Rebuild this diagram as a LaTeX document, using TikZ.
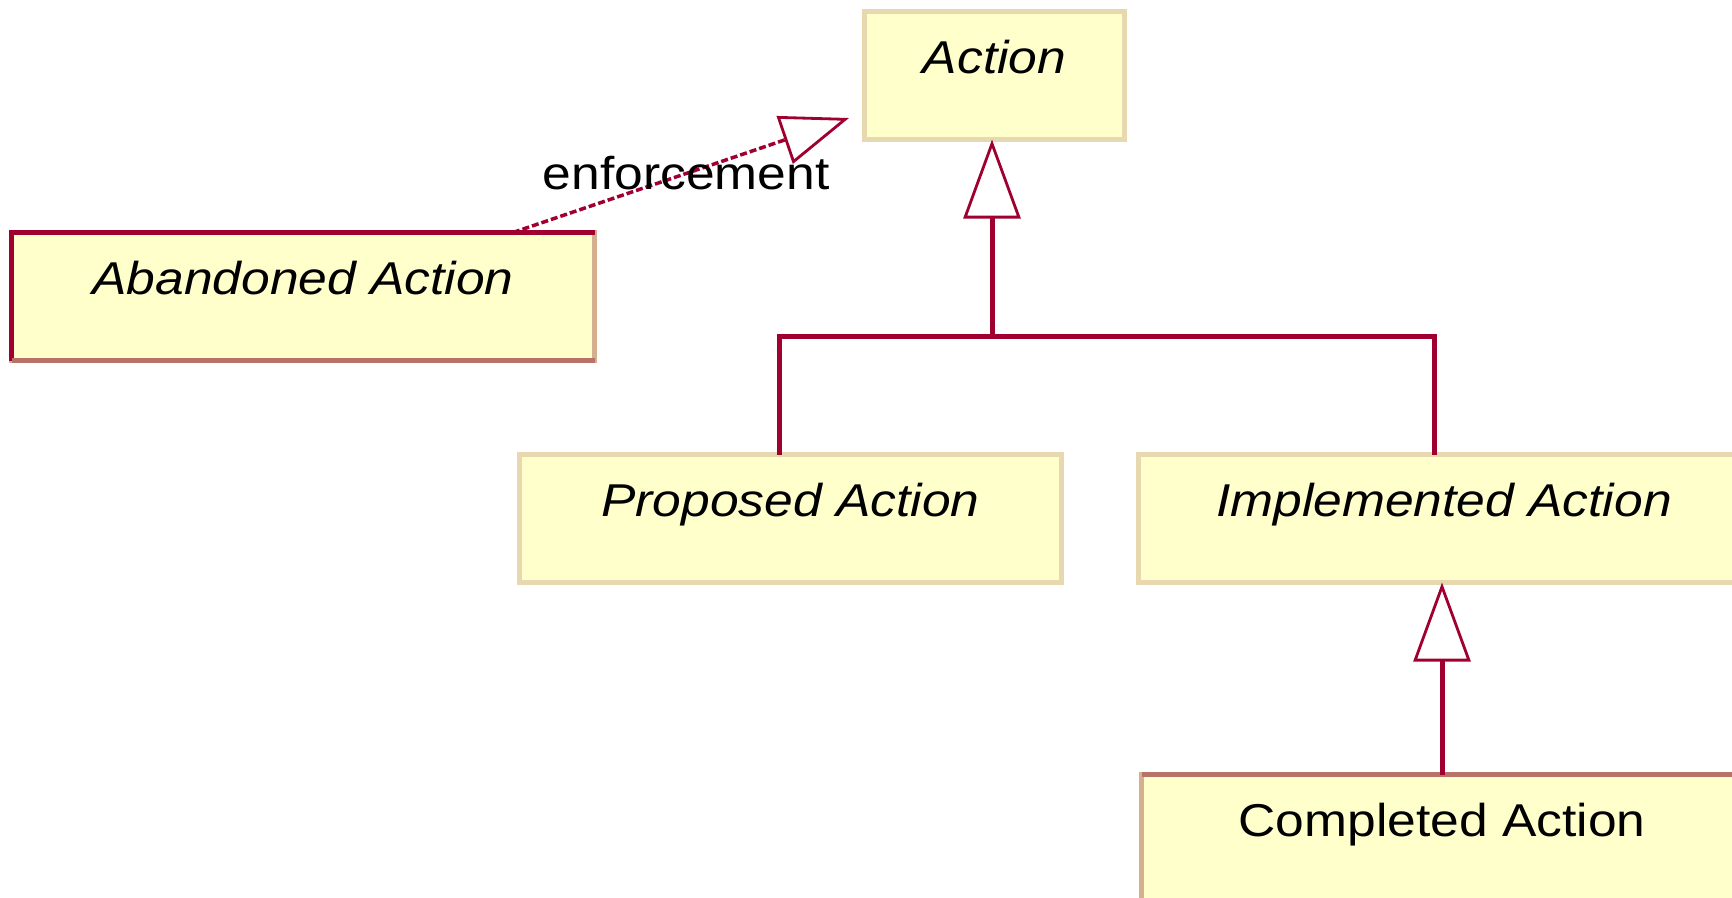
\documentclass[tikz,border=0pt]{standalone}
\usepackage{fontspec}
\newfontfamily\umlfont[FakeStretch=1.12]{Liberation Sans}
\usetikzlibrary{arrows.meta}
\definecolor{umlred}{RGB}{160,0,48}
\definecolor{classfill}{RGB}{255,255,204}
\definecolor{classtan}{RGB}{232,216,176}
\definecolor{shadetan}{RGB}{212,176,144}
\definecolor{shaderose}{RGB}{184,115,104}
\tikzset{
  classbox/.style={rectangle, anchor=north west, fill=classfill, draw=classtan,
    line width=0.05cm, inner sep=0pt, outer sep=0pt,
    text height=0.615cm, text depth=0.665cm},
  classname/.style={font=\umlfont\fontsize{13.1}{15}\selectfont\itshape},
  plainname/.style={font=\umlfont\fontsize{13.1}{15}\selectfont},
  conn/.style={draw=umlred, line width=0.05cm},
  gentip/.style={-{Triangle[open, length=0.79cm, width=0.57cm, line width=0.8pt]}},
  realline/.style={draw=umlred, line width=0.035cm, dash pattern=on 0.07cm off 0.03cm},
  realtip/.style={-{Triangle[open, length=0.68cm, width=0.50cm, line width=0.8pt]}},
}
\newcommand{\classbox}[5]{\node[classbox, minimum width=#3cm, #4] (#1) at (#2) {#5};}

\begin{document}
\begin{tikzpicture}
    \useasboundingbox (0,0) rectangle (17.32,-8.97);
    % classes
    \classbox{action}{8.645,-0.115}{2.60}{classname}{Action}
    \classbox{aband}{0.115,-2.325}{5.83}{classname, draw=shadetan}{Abandoned Action}
    \classbox{prop}{5.195,-4.545}{5.42}{classname}{Proposed Action}
    \classbox{impl}{11.385,-4.545}{6.11}{classname}{Implemented Action}
    \classbox{compl}{11.415,-7.745}{6.01}{plainname, draw=shadetan}{Completed Action}
    % edge shading
    \draw[line width=0.05cm, umlred] (aband.south west) |- (aband.north east);
    \draw[line width=0.05cm, shaderose] (aband.south west) -- (aband.south east);
    \draw[line width=0.05cm, shaderose] (compl.north west) -- (compl.north east);
    % generalization
    \coordinate (gjoin) at (9.92,-3.365);
    \draw[conn, gentip] (gjoin) -- (gjoin |- action.south);
    \draw[conn] ([xshift=-0.115cm]prop.north) |- (gjoin);
    \draw[conn] ([xshift=-0.10cm]impl.north) |- (gjoin);
    \draw[conn, gentip] (compl.north) -- (compl.north |- impl.south);
    % realization
    \draw[realline, realtip] ([xshift=2.10cm]aband.north)
        -- ([xshift=-0.155cm, yshift=0.215cm]action.south west)
        node[pos=0.515, plainname, text=black] (enf) {enforcement};
\end{tikzpicture}
\end{document}
